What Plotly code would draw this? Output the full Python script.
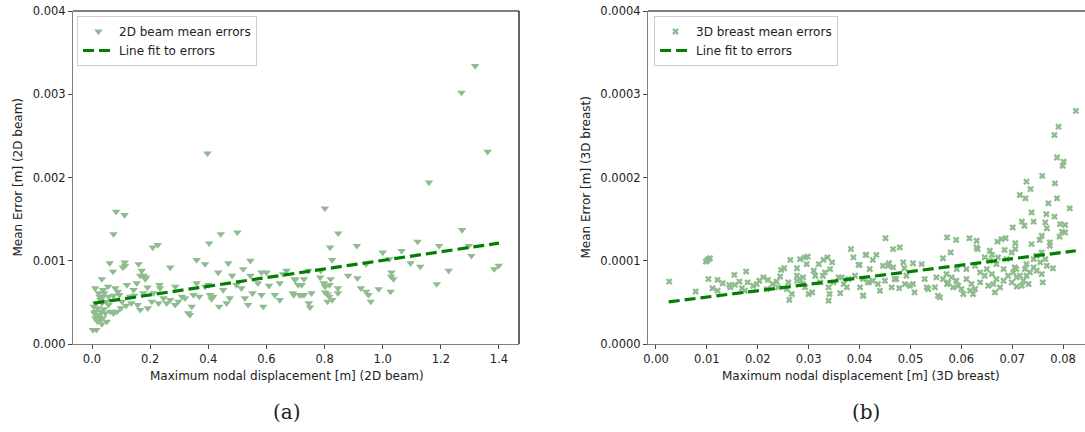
import plotly.graph_objects as go

# ---- data: panel (a) 2D beam ----
beam_x = [0.083,0.112,0.074,0.403,0.443,0.5,0.209,0.226,0.061,0.112,0.114,0.106,0.072,0.16,0.269,0.36,0.389,0.469,0.545,
          0.034,0.171,0.177,0.186,0.166,0.183,0.191,0.12,0.154,0.011,0.038,0.055,0.08,0.089,0.094,0.074,0.057,0.038,0.029,
          0.015,0.019,0.011,0.017,0.023,0.029,0.037,0.011,0.019,0.034,0.003,0.015,0.046,0.051,0.057,0.063,0.074,0.086,0.099,
          0.117,0.135,0.145,0.157,0.166,0.192,0.206,0.232,0.234,0.229,0.246,0.257,0.269,0.286,0.286,0.297,0.309,0.32,0.331,
          0.337,0.343,0.349,0.36,0.369,0.389,0.4,0.406,0.411,0.417,0.434,0.437,0.451,0.463,0.474,0.482,0.497,0.514,0.52,
          0.526,0.537,0.545,0.552,0.571,0.583,0.583,0.589,0.6,0.609,0.629,0.646,0.646,0.657,0.669,0.691,0.697,0.714,0.709,
          0.023,0.026,0.042,0.049,0.034,0.006,0.008,0.04,0.026,0.031,0.103,0.131,0.143,0.177,0.211,
          1.159,0.801,1.273,0.847,1.12,0.819,0.911,1.194,1.296,1.305,1.0,1.065,1.023,0.826,0.943,1.096,1.129,1.227,1.384,
          1.399,0.745,0.787,0.699,0.729,0.721,0.785,0.821,0.881,0.913,1.03,1.029,1.037,0.797,0.802,0.817,0.846,0.846,0.925,
          0.943,0.951,0.959,0.986,1.027,1.186,0.694,0.721,0.729,0.755,0.746,0.75,0.802,0.81,0.816,0.81,0.826,
          1.318,1.271,1.361,0.397]
beam_err = [1.59,1.55,1.32,1.21,1.32,1.34,1.16,1.19,0.97,0.98,0.94,0.92,0.87,0.96,0.92,1.01,0.96,0.97,1.0,
            0.78,0.88,0.82,0.80,0.82,0.78,0.68,0.71,0.73,0.67,0.65,0.69,0.67,0.63,0.59,0.58,0.57,0.57,0.53,
            0.49,0.43,0.39,0.35,0.33,0.29,0.31,0.31,0.27,0.24,0.17,0.17,0.37,0.27,0.47,0.39,0.37,0.39,0.43,
            0.46,0.49,0.58,0.47,0.41,0.43,0.51,0.71,0.67,0.49,0.55,0.49,0.53,0.69,0.47,0.51,0.57,0.55,0.37,
            0.35,0.45,0.59,0.73,0.57,0.69,0.71,0.59,0.54,0.57,0.86,0.45,0.65,0.49,0.55,0.82,0.71,0.67,0.9,
            0.55,0.47,0.82,0.61,0.73,0.86,0.59,0.45,0.86,0.70,0.59,0.53,0.73,0.84,0.88,0.61,0.78,0.59,0.71,
            0.61,0.57,0.61,0.51,0.49,0.45,0.37,0.42,0.35,0.39,0.51,0.57,0.65,0.61,0.61,
            1.94,1.63,1.37,1.33,1.23,1.16,1.18,1.18,1.18,1.06,1.10,1.12,1.02,1.01,0.96,0.97,0.93,0.88,0.90,
            0.94,0.88,0.88,0.77,0.78,0.71,0.80,0.78,0.82,0.79,0.86,0.81,0.78,0.73,0.69,0.71,0.67,0.61,0.67,
            0.63,0.59,0.51,0.66,0.63,0.72,0.59,0.59,0.59,0.61,0.49,0.44,0.62,0.60,0.57,0.51,0.53,
            3.34,3.02,2.31,2.29]
beam_y = [v * 1e-3 for v in beam_err]
beam_fit_x = [0.005, 1.40]
beam_fit_y = [0.000489, 0.001212]

# ---- data: panel (b) 3D breast ----
breast_x = [0.0026,0.01,0.0103,0.0106,0.0098,0.0103,0.0078,0.0111,0.0121,0.0121,0.0131,0.0144,0.0154,0.0155,0.0164,
            0.0169,0.0177,0.018,0.0175,0.0198,0.0203,0.0211,0.022,0.0218,0.0237,0.0244,0.0246,0.0252,0.0264,0.0277,
            0.0283,0.0293,0.0298,0.0296,0.031,0.032,0.0329,0.0337,0.0346,0.0342,0.026,0.0257,0.0262,0.0267,0.0277,
            0.0283,0.0289,0.0288,0.0293,0.03,0.0307,0.0313,0.0323,0.0328,0.0332,0.0339,0.0341,0.0339,0.0349,0.0359,
            0.0362,0.0369,0.0375,0.0383,0.0388,0.0391,0.0398,0.0401,0.0407,0.0413,0.0418,0.0365,0.0378,0.0277,0.024,
            0.0229,0.0191,0.0146,
            0.0759,0.0728,0.0784,0.0736,0.0715,0.0726,0.0788,0.0771,0.0813,0.0738,0.0767,0.0783,0.0719,0.0742,0.0765,
            0.0701,0.0724,0.0794,0.0804,0.0768,0.0798,0.0804,0.0793,0.0758,0.0754,0.0738,0.0774,0.0706,0.0451,0.0466,
            0.0479,0.0572,0.059,0.0616,0.063,0.063,0.0632,0.0671,0.0679,0.0687,0.0685,0.0706,0.0699,0.0656,0.066,
            0.0579,0.0564,0.0412,0.0433,0.0426,0.04,0.0458,0.0486,0.0505,0.0522,0.0488,0.0456,0.0446,0.042,0.0466,
            0.0758,0.0742,0.078,0.0728,0.0708,0.0683,0.0656,0.065,0.0627,0.061,0.0591,0.0571,0.0551,0.0528,0.0532,
            0.0535,0.0548,0.0554,0.0558,0.0574,0.0581,0.059,0.0594,0.06,0.0604,0.0617,0.0623,0.0627,0.0637,0.0646,
            0.0653,0.0663,0.0666,0.0676,0.0683,0.0692,0.0702,0.0705,0.0715,0.0719,0.0709,0.0722,0.0732,0.0735,0.0742,
            0.0748,0.0755,0.0758,0.076,0.0765,0.0768,0.0748,0.0774,0.0407,0.0407,0.0416,0.0426,0.0436,0.044,0.045,
            0.0463,0.0472,0.0478,0.0489,0.0499,0.0505,0.0508,0.0492,0.0469,0.0646,0.0672,0.0669,0.0689,
            0.0564,0.0572,0.0584,0.061,0.062,0.0637,0.066,0.0669,0.0699,0.0709,0.0725,0.0728,0.0825,
            0.0791,0.0783,0.0788,0.0801,0.0799]
breast_err = [0.75,1.0,1.02,1.03,0.99,0.78,0.63,0.67,0.77,0.64,0.73,0.71,0.83,0.71,0.75,
              0.67,0.87,0.74,0.64,0.72,0.76,0.80,0.77,0.66,0.75,0.81,0.89,0.91,1.01,0.91,
              1.02,1.04,1.05,0.96,0.88,0.96,1.01,1.04,0.98,0.90,0.74,0.66,0.53,0.60,0.76,
              0.78,0.80,0.72,0.68,0.60,0.62,0.82,0.74,0.82,0.86,0.68,0.60,0.52,0.74,0.80,
              0.61,0.72,0.68,1.14,1.04,0.82,0.95,0.68,0.58,1.07,0.74,0.80,0.78,0.82,0.68,
              0.72,0.70,0.68,
              2.02,1.95,1.93,1.86,1.79,1.75,1.75,1.69,1.63,1.58,1.56,1.53,1.47,1.47,1.46,
              1.40,1.42,1.44,1.43,1.39,1.35,1.34,1.29,1.30,1.25,1.20,1.22,1.21,1.27,1.14,
              1.16,1.28,1.25,1.27,1.24,1.16,1.14,1.23,1.26,1.27,1.13,1.14,1.10,1.12,1.07,
              1.10,1.03,1.07,1.07,1.01,0.95,0.97,0.98,0.97,0.96,0.91,0.94,0.94,0.90,0.92,
              1.10,1.02,0.91,0.96,0.90,0.90,1.00,0.90,0.94,0.90,0.90,0.84,0.80,0.78,0.68,
              0.66,0.68,0.58,0.56,0.74,0.80,0.76,0.70,0.66,0.60,0.64,0.60,0.66,0.74,0.82,
              0.70,0.72,0.62,0.68,0.76,0.82,0.86,0.92,0.82,0.70,0.69,0.76,0.72,0.86,0.92,
              0.88,0.98,0.84,0.74,1.02,0.94,1.06,1.18,0.78,0.58,0.74,0.76,0.72,0.64,0.76,
              0.68,0.78,0.67,0.72,0.70,0.72,0.62,0.82,0.78,1.04,1.04,0.96,1.02,
              0.78,0.72,0.68,0.78,0.72,0.86,0.84,0.78,0.74,0.80,0.90,0.82,2.80,
              2.61,2.51,2.24,2.19,2.14]
breast_y = [v * 1e-4 for v in breast_err]
breast_fit_x = [0.0025, 0.0825]
breast_fit_y = [0.0000506, 0.000112]

W, H = 1085, 432
L1, R1, T, B = 73, 519, 11, 344
L2, R2 = 648, 1085

def px(x):
    return x / W

def py(y):
    return 1 - y / H

pt_color = "#8FBC8F"
fit_color = "#008000"
FONT = "DejaVu Sans"

fig = go.Figure()
fig.add_trace(go.Scatter(x=beam_x, y=beam_y, mode="markers", name="2D beam mean errors",
                         marker=dict(symbol="triangle-down", size=7.5, color=pt_color),
                         xaxis="x", yaxis="y", legend="legend"))
fig.add_trace(go.Scatter(x=beam_fit_x, y=beam_fit_y, mode="lines", name="Line fit to errors",
                         line=dict(color=fit_color, width=3.2, dash="11px,5px"),
                         xaxis="x", yaxis="y", legend="legend"))
fig.add_trace(go.Scatter(x=breast_x, y=breast_y, mode="markers", name="3D breast mean errors",
                         marker=dict(symbol="x", size=6, color=pt_color),
                         xaxis="x2", yaxis="y2", legend="legend2"))
fig.add_trace(go.Scatter(x=breast_fit_x, y=breast_fit_y, mode="lines", name="Line fit to errors",
                         line=dict(color=fit_color, width=3.2, dash="11px,5px"),
                         xaxis="x2", yaxis="y2", legend="legend2"))

axcommon = dict(showgrid=False, zeroline=False, showline=True, linecolor="#808080", linewidth=1.2,
                ticks="outside", ticklen=4, tickcolor="#444", tickwidth=1, automargin=False,
                tickfont=dict(family=FONT, size=11.5, color="#222"))

legcommon = dict(bgcolor="white", bordercolor="#cccccc", borderwidth=1,
                 font=dict(family=FONT, size=12, color="#222"),
                 xanchor="left", yanchor="top", tracegroupgap=0, itemwidth=31)

fig.update_layout(
    width=W, height=H, margin=dict(l=0, r=0, t=0, b=0, autoexpand=False),
    paper_bgcolor="white", plot_bgcolor="white",
    xaxis=dict(domain=[px(L1), px(R1)], range=[-0.0654, 1.4689], tickvals=[0, 0.2, 0.4, 0.6, 0.8, 1.0, 1.2, 1.4],
               tickformat=".1f", anchor="y", **axcommon),
    yaxis=dict(domain=[py(B), py(T)], range=[0, 0.004], tickvals=[0, 0.001, 0.002, 0.003, 0.004],
               tickformat=".3f", anchor="x", **axcommon),
    xaxis2=dict(domain=[px(L2), 1.0], range=[-0.00157, 0.0843],
                tickvals=[0, 0.01, 0.02, 0.03, 0.04, 0.05, 0.06, 0.07, 0.08],
                tickformat=".2f", anchor="y2", **axcommon),
    yaxis2=dict(domain=[py(B), py(T)], range=[0, 0.0004], tickvals=[0, 0.0001, 0.0002, 0.0003, 0.0004],
                tickformat=".4f", anchor="x2", **axcommon),
    legend=dict(x=px(77), y=py(16), **legcommon),
    legend2=dict(x=px(654), y=py(16), **legcommon),
    showlegend=True,
)

# top / right frame lines
fig.add_shape(type="line", xref="paper", yref="paper", x0=px(L1), x1=px(R1), y0=py(T), y1=py(T),
              line=dict(color="black", width=1.2))
fig.add_shape(type="line", xref="paper", yref="paper", x0=px(R1), x1=px(R1), y0=py(T), y1=py(B),
              line=dict(color="black", width=1.2))
fig.add_shape(type="line", xref="paper", yref="paper", x0=px(L2), x1=1.0, y0=py(T), y1=py(T),
              line=dict(color="black", width=1.2))

ann = [
    dict(text="Maximum nodal displacement [m] (2D beam)", x=px(287), y=py(376)),
    dict(text="Maximum nodal displacement [m] (3D breast)", x=px(861), y=py(376)),
]
for a in ann:
    fig.add_annotation(text=a["text"], x=a["x"], y=a["y"], xref="paper", yref="paper", showarrow=False,
                       xanchor="center", yanchor="middle", font=dict(family=FONT, size=12, color="#222"))
fig.add_annotation(text="Mean Error [m] (2D beam)", x=px(17), y=py((T + B) / 2), xref="paper", yref="paper",
                   showarrow=False, textangle=-90, xanchor="center", yanchor="middle",
                   font=dict(family=FONT, size=12, color="#222"))
fig.add_annotation(text="Mean Error [m] (3D breast)", x=px(585), y=py((T + B) / 2), xref="paper", yref="paper",
                   showarrow=False, textangle=-90, xanchor="center", yanchor="middle",
                   font=dict(family=FONT, size=12, color="#222"))
fig.add_annotation(text="(a)", x=px(287), y=py(412), xref="paper", yref="paper", showarrow=False,
                   xanchor="center", yanchor="middle", font=dict(family="DejaVu Serif", size=20, color="#222"))
fig.add_annotation(text="(b)", x=px(866), y=py(412), xref="paper", yref="paper", showarrow=False,
                   xanchor="center", yanchor="middle", font=dict(family="DejaVu Serif", size=20, color="#222"))

fig.write_html("out.html", config={"displayModeBar": False},
               post_script="document.body.style.margin='0';document.body.style.padding='0';")
